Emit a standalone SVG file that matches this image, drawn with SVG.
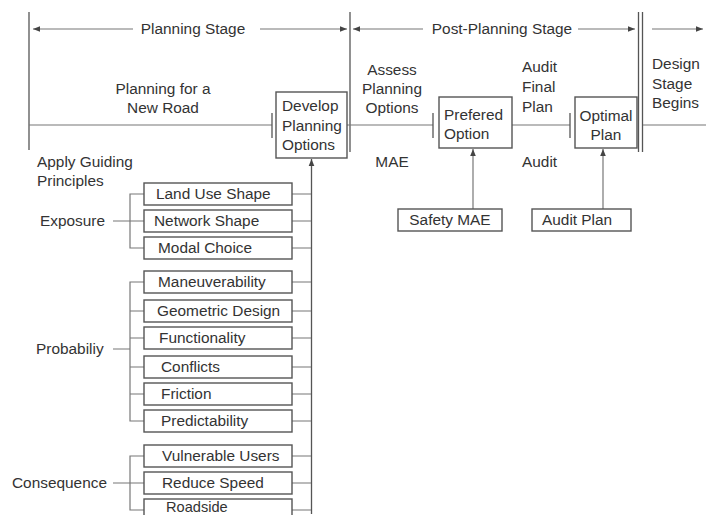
<svg xmlns="http://www.w3.org/2000/svg" width="706" height="515" viewBox="0 0 706 515">
<style>
text{font-family:"Liberation Sans",Arial,sans-serif;font-size:15.4px;fill:#333}
.ln{stroke:#555;stroke-width:1.3;fill:none}
.lt{stroke:#777;stroke-width:1.2;fill:none}
.bx{fill:#fff;stroke:#555;stroke-width:1.4}
</style>
<defs>
<marker id="ah" viewBox="0 0 10 10" refX="10" refY="5" markerWidth="9" markerHeight="7" markerUnits="userSpaceOnUse" orient="auto-start-reverse">
<path d="M0,1 L10,5 L0,9 z" fill="#444"/>
</marker>
</defs>
<rect width="706" height="515" fill="#fff"/>
<g id="connectors">
<line class="ln" x1="29" y1="12" x2="29" y2="150"/>
<line class="ln" x1="350" y1="12" x2="350" y2="152"/>
<line class="ln" x1="638.5" y1="12" x2="638.5" y2="152"/>
<line class="ln" x1="642.5" y1="12" x2="642.5" y2="152"/>
<line class="lt" x1="33" y1="29" x2="133" y2="29" marker-start="url(#ah)"/>
<line class="lt" x1="260" y1="29" x2="347" y2="29" marker-end="url(#ah)"/>
<line class="lt" x1="353" y1="29" x2="423" y2="29" marker-start="url(#ah)"/>
<line class="lt" x1="578" y1="29" x2="635" y2="29" marker-end="url(#ah)"/>
<line class="lt" x1="652" y1="29" x2="703" y2="29" marker-end="url(#ah)"/>
<line class="lt" x1="29" y1="125" x2="272" y2="125"/>
<line class="ln" x1="272" y1="113" x2="272" y2="138"/>
<line class="lt" x1="347" y1="125" x2="433" y2="125"/>
<line class="ln" x1="433" y1="113" x2="433" y2="138"/>
<line class="lt" x1="512" y1="125" x2="570" y2="125"/>
<line class="ln" x1="570" y1="113" x2="570" y2="138"/>
<line class="lt" x1="643" y1="125" x2="706" y2="125"/>
<line class="lt" x1="473" y1="209" x2="473" y2="149" marker-end="url(#ah)"/>
<line class="lt" x1="603" y1="209" x2="603" y2="149" marker-end="url(#ah)"/>
<line class="ln" x1="311.5" y1="514" x2="311.5" y2="159" marker-end="url(#ah)"/>
<path class="lt" d="M292,194H311M292,221H311M292,248H311M292,282H311M292,311H311M292,338H311M292,367H311M292,394H311M292,421H311M292,456H311M292,483H311M292,510H311"/>
<path class="lt" d="M144,194H130V248H144M113,221H144"/>
<path class="lt" d="M144,282H130V421H144M130,311H144M130,338H144M130,367H144M130,394H144M113,349H130"/>
<path class="lt" d="M144,456H130V510H144M113,483H144"/>
</g>
<g id="labels">
<text x="193" y="34" text-anchor="middle">Planning Stage</text>
<text x="502" y="34" text-anchor="middle">Post-Planning Stage</text>
<text x="163" y="94" text-anchor="middle">Planning for a</text>
<text x="163" y="113" text-anchor="middle">New Road</text>
<text x="392" y="75" text-anchor="middle">Assess</text>
<text x="392" y="94" text-anchor="middle">Planning</text>
<text x="392" y="113" text-anchor="middle">Options</text>
<text x="392" y="167" text-anchor="middle">MAE</text>
<text x="522" y="72">Audit</text>
<text x="522" y="92">Final</text>
<text x="522" y="112">Plan</text>
<text x="522" y="167">Audit</text>
<text x="652" y="69">Design</text>
<text x="652" y="89">Stage</text>
<text x="652" y="108">Begins</text>
<text x="37" y="167">Apply Guiding</text>
<text x="37" y="186">Principles</text>
<text x="40" y="226">Exposure</text>
<text x="36" y="354">Probabiliy</text>
<text x="12" y="488">Consequence</text>
</g>
<g id="develop"><rect class="bx" x="276" y="92" width="71" height="66"/><text x="282" y="111">Develop</text><text x="282" y="131">Planning</text><text x="282" y="150">Options</text></g>
<g id="prefered"><rect class="bx" x="439" y="97" width="73" height="51"/><text x="444" y="120">Prefered</text><text x="444" y="139">Option</text></g>
<g id="optimal"><rect class="bx" x="575" y="97" width="62" height="51"/><text x="606" y="121" text-anchor="middle">Optimal</text><text x="606" y="140" text-anchor="middle">Plan</text></g>
<g id="safety"><rect class="bx" x="398" y="209" width="104" height="22"/><text x="450" y="225" text-anchor="middle">Safety MAE</text></g>
<g id="auditplan"><rect class="bx" x="532" y="209" width="99" height="22"/><text x="542" y="225">Audit Plan</text></g>
<g id="landuse"><rect class="bx" x="144" y="183" width="148" height="22"/><text x="156" y="199">Land Use Shape</text></g>
<g id="network"><rect class="bx" x="144" y="210" width="148" height="22"/><text x="154" y="226">Network Shape</text></g>
<g id="modal"><rect class="bx" x="144" y="237" width="148" height="22"/><text x="158" y="253">Modal Choice</text></g>
<g id="maneuver"><rect class="bx" x="144" y="271" width="148" height="22"/><text x="158" y="287">Maneuverability</text></g>
<g id="geometric"><rect class="bx" x="144" y="300" width="148" height="22"/><text x="157" y="316">Geometric Design</text></g>
<g id="functionality"><rect class="bx" x="144" y="327" width="148" height="22"/><text x="159" y="343">Functionality</text></g>
<g id="conflicts"><rect class="bx" x="144" y="356" width="148" height="22"/><text x="161" y="372">Conflicts</text></g>
<g id="friction"><rect class="bx" x="144" y="383" width="148" height="22"/><text x="161" y="399">Friction</text></g>
<g id="predictability"><rect class="bx" x="144" y="410" width="148" height="22"/><text x="161" y="426">Predictability</text></g>
<g id="vulnerable"><rect class="bx" x="144" y="445" width="148" height="22"/><text x="162" y="461">Vulnerable Users</text></g>
<g id="speed"><rect class="bx" x="144" y="472" width="148" height="22"/><text x="162" y="488">Reduce Speed</text></g>
<g id="roadside"><rect class="bx" x="144" y="499" width="148" height="22"/><text x="166" y="512" style="font-size:14.6px">Roadside</text></g>
</svg>
